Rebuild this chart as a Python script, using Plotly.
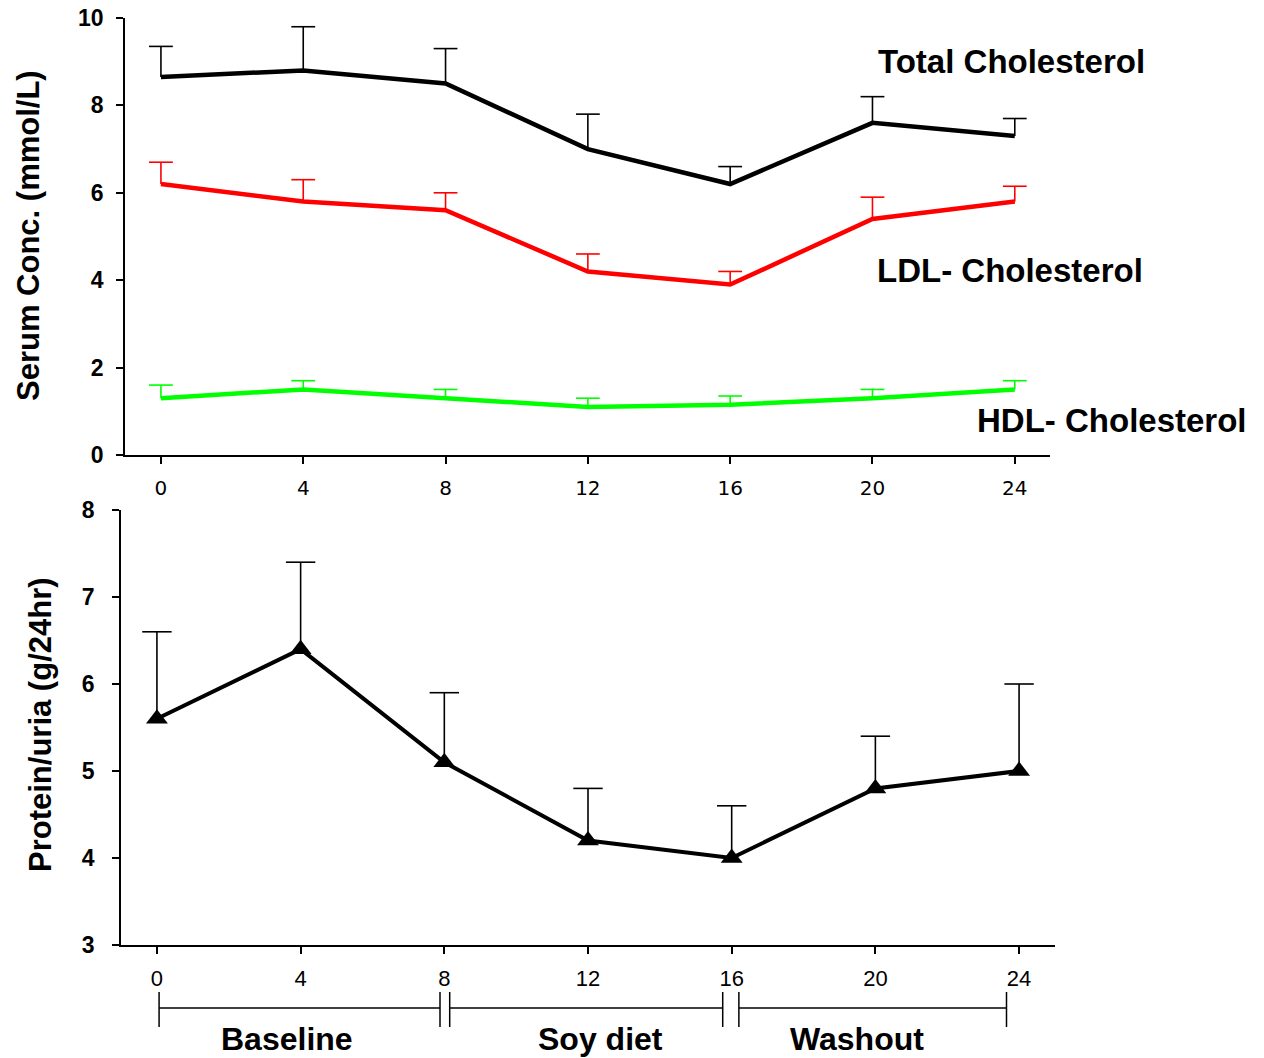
import plotly.graph_objects as go

# ---------------- data ----------------
weeks = [0, 4, 8, 12, 16, 20, 24]

total_chol = [8.65, 8.8, 8.5, 7.0, 6.2, 7.6, 7.3]
total_err = [0.7, 1.0, 0.8, 0.8, 0.4, 0.6, 0.4]

ldl_chol = [6.2, 5.8, 5.6, 4.2, 3.9, 5.4, 5.8]
ldl_err = [0.5, 0.5, 0.4, 0.4, 0.3, 0.5, 0.35]

hdl_chol = [1.3, 1.5, 1.3, 1.1, 1.15, 1.3, 1.5]
hdl_err = [0.3, 0.2, 0.2, 0.2, 0.2, 0.2, 0.2]

proteinuria = [5.6, 6.4, 5.1, 4.2, 4.0, 4.8, 5.0]
protein_err = [1.0, 1.0, 0.8, 0.6, 0.6, 0.6, 1.0]

phase_names = ["Baseline", "Soy diet", "Washout"]
phase_starts = [0.06, 8.15, 16.2]
phase_ends = [7.88, 15.75, 23.65]
phase_label_x = [3.62, 12.34, 19.5]

top_yticks = [0, 2, 4, 6, 8, 10]
bottom_yticks = [3, 4, 5, 6, 7, 8]

BOLD = "Liberation Sans, Arial, sans-serif"

fig = go.Figure()


def add_series(x, y, err, color, width, xa, ya, cap, marker=None):
    # upper-only error bars: a cap marker at y+err with a stem down to y
    tops = [v + e for v, e in zip(y, err)]
    fig.add_trace(go.Scatter(
        x=x, y=tops, mode="markers", xaxis=xa, yaxis=ya, showlegend=False,
        hoverinfo="skip", cliponaxis=False,
        marker=dict(symbol="line-ew", size=cap, color=color,
                    line=dict(width=1.6, color=color)),
        error_y=dict(type="data", symmetric=False, array=[0] * len(err),
                     arrayminus=err, width=0, thickness=1.6, color=color),
    ))
    fig.add_trace(go.Scatter(
        x=x, y=y, mode="lines+markers" if marker else "lines",
        xaxis=xa, yaxis=ya, showlegend=False, cliponaxis=False,
        line=dict(color=color, width=width),
        marker=marker,
    ))


add_series(weeks, total_chol, total_err, "#000000", 4.5, "x", "y", 17)
add_series(weeks, ldl_chol, ldl_err, "#ff0000", 4.5, "x", "y", 17)
add_series(weeks, hdl_chol, hdl_err, "#00ff00", 4.5, "x", "y", 17)
add_series(weeks, proteinuria, protein_err, "#000000", 4, "x2", "y2", 21,
           marker=dict(symbol="triangle-up", size=19, color="#000000"))

# series labels (left edge position in week units, vertical centre in mmol/L)
series_labels = ["Total Cholesterol", "LDL- Cholesterol", "HDL- Cholesterol"]
label_x = [20.1, 20.08, 22.88]
label_y = [9.0, 4.23, 0.8]
for t, lx, ly in zip(series_labels, label_x, label_y):
    fig.add_annotation(x=lx, y=ly, xref="x", yref="y", text=t, showarrow=False,
                       xanchor="left", yanchor="middle",
                       font=dict(family=BOLD, size=33, color="#000000", weight="bold"))

# axis titles
fig.add_annotation(x=28 / 1264, y=1 - 236 / 1058, xref="paper", yref="paper",
                   text="Serum Conc. (mmol/L)", textangle=-90, showarrow=False,
                   xanchor="center", yanchor="middle",
                   font=dict(family=BOLD, size=31, color="#000000", weight="bold"))
fig.add_annotation(x=40 / 1264, y=1 - 725 / 1058, xref="paper", yref="paper",
                   text="Protein/uria (g/24hr)", textangle=-90, showarrow=False,
                   xanchor="center", yanchor="middle",
                   font=dict(family=BOLD, size=31, color="#000000", weight="bold"))

# phase timeline below the lower chart
tick_top = 1 - 992 / 1058
tick_bot = 1 - 1027 / 1058
bar_y = 1 - 1008 / 1058
for name, s, e, lx in zip(phase_names, phase_starts, phase_ends, phase_label_x):
    line = dict(color="#000000", width=1.5)
    fig.add_shape(type="line", xref="x2", yref="paper", x0=s, x1=e, y0=bar_y, y1=bar_y, line=line)
    fig.add_shape(type="line", xref="x2", yref="paper", x0=s, x1=s, y0=tick_bot, y1=tick_top, line=line)
    fig.add_shape(type="line", xref="x2", yref="paper", x0=e, x1=e, y0=tick_bot, y1=tick_top, line=line)
    fig.add_annotation(x=lx, y=1 - 1039 / 1058, xref="x2", yref="paper", text=name,
                       showarrow=False, xanchor="center", yanchor="middle",
                       font=dict(family=BOLD, size=32, color="#000000", weight="bold"))

axis_common = dict(showline=True, linecolor="#000000", linewidth=1.5, showgrid=False,
                   zeroline=False, ticks="outside", ticklen=7, tickwidth=1.5,
                   tickcolor="#000000", automargin=False)

fig.update_layout(
    width=1264, height=1058,
    margin=dict(l=0, r=0, t=0, b=0, autoexpand=False),
    paper_bgcolor="#ffffff", plot_bgcolor="#ffffff",
    showlegend=False,
    xaxis=dict(domain=[125 / 1264, 1050 / 1264], range=[-1.01, 24.99], anchor="y",
               tickvals=weeks, ticklabelstandoff=7,
               tickfont=dict(family="DejaVu Sans", size=20, color="#000000"),
               **axis_common),
    yaxis=dict(domain=[1 - 455 / 1058, 1 - 18 / 1058], range=[0, 10], anchor="x",
               tickvals=top_yticks, ticklabelstandoff=8,
               tickfont=dict(family=BOLD, size=23, color="#000000", weight="bold"),
               **axis_common),
    xaxis2=dict(domain=[121 / 1264, 1055 / 1264], range=[-1.0, 25.0], anchor="y2",
                tickvals=weeks, ticklabelstandoff=6,
                tickfont=dict(family="Liberation Sans, Arial", size=22, color="#000000"),
                **axis_common),
    yaxis2=dict(domain=[1 - 945 / 1058, 1 - 510 / 1058], range=[3, 8], anchor="x2",
                tickvals=bottom_yticks, ticklabelstandoff=13,
                tickfont=dict(family=BOLD, size=23, color="#000000", weight="bold"),
                **axis_common),
)

fig.write_html("out.html", post_script="document.body.style.margin='0px';",
               config={"displayModeBar": False})
